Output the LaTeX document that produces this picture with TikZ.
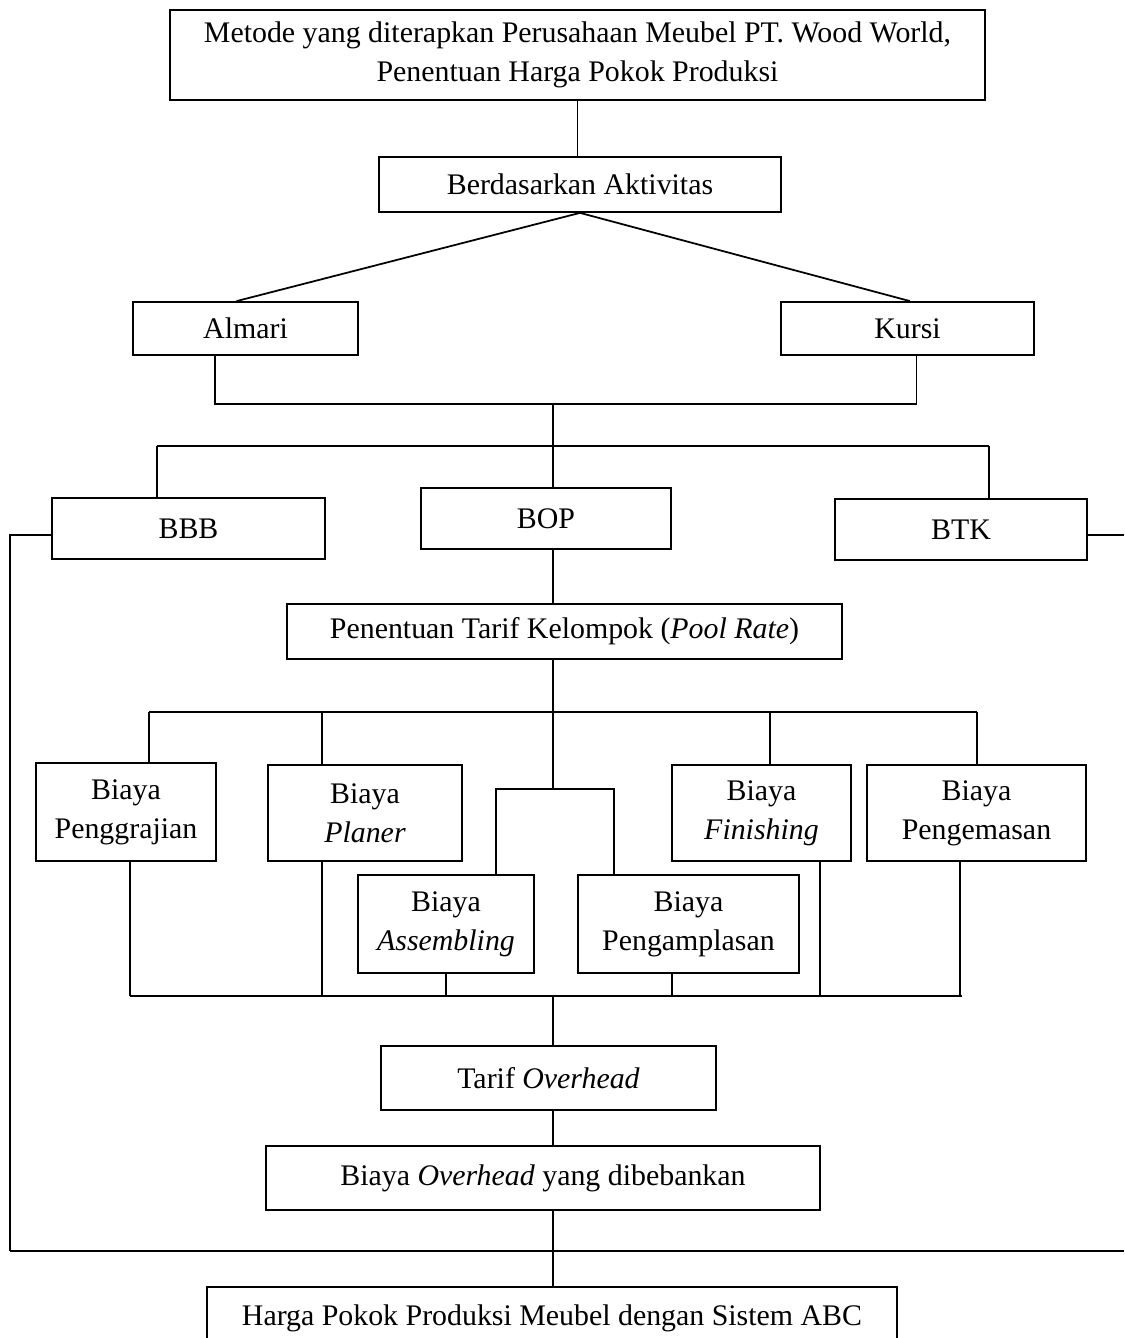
\documentclass[tikz,border=0pt]{standalone}
\usepackage{fontspec}
\setmainfont{Liberation Serif}
\usepackage{tikz}
\usetikzlibrary{positioning,calc}
\tikzset{
  box/.style={
    draw, line width=1pt, inner sep=0pt, align=center,
    font=\fontsize{17}{22}\selectfont
  },
  link/.style={line width=1pt},
  buslink/.style={line width=1.3pt}
}

\begin{document}
\begin{tikzpicture}
  \clip (0,0) rectangle (22.48,-26.76);
  \useasboundingbox (0,0) rectangle (22.48,-26.76);

  % nodes
  \node[box, minimum width=16.3cm, minimum height=1.8cm] (top) at (11.55,-1.1)
    {Metode yang diterapkan Perusahaan Meubel PT. Wood World,\\Penentuan Harga Pokok Produksi};
  \node[box, minimum width=8.04cm, minimum height=1.1cm] (akt) at (11.6,-3.69) {Berdasarkan Aktivitas};
  \node[box, minimum width=4.5cm, minimum height=1.06cm] (almari) at (4.91,-6.57) {Almari};
  \node[box, minimum width=5.06cm, minimum height=1.06cm] (kursi) at (18.15,-6.57) {Kursi};
  \node[box, minimum width=5.46cm, minimum height=1.22cm] (bbb) at (3.77,-10.57) {BBB};
  \node[box, minimum width=5.0cm, minimum height=1.22cm] (bop) at (10.92,-10.37) {BOP};
  \node[box, minimum width=5.04cm, minimum height=1.22cm] (btk) at (19.22,-10.59) {BTK};
  \node[box, minimum width=11.1cm, minimum height=1.1cm] (pool) at (11.29,-12.63)
    {Penentuan Tarif Kelompok (\textit{Pool Rate})};
  \node[box, minimum width=3.6cm, minimum height=1.96cm] (peng) at (2.52,-16.24) {Biaya\\Penggrajian};
  \node[box, minimum width=3.88cm, minimum height=1.92cm] (planer) at (7.3,-16.26) {Biaya\\\textit{Planer}};
  \node[box, minimum width=3.58cm, minimum height=1.92cm] (finish) at (15.23,-16.26) {Biaya\\\textit{Finishing}};
  \node[box, minimum width=4.38cm, minimum height=1.92cm] (kemas) at (19.53,-16.26) {Biaya\\Pengemasan};
  \node[box, minimum width=3.52cm, minimum height=1.96cm] (assem) at (8.92,-18.48) {Biaya\\\textit{Assembling}};
  \node[box, minimum width=4.42cm, minimum height=1.96cm] (ampl) at (13.77,-18.48) {Biaya\\Pengamplasan};
  \node[box, minimum width=6.7cm, minimum height=1.28cm] (tarif) at (10.97,-21.56) {Tarif \textit{Overhead}};
  \node[box, minimum width=11.08cm, minimum height=1.28cm] (beban) at (10.86,-23.56)
    {Biaya \textit{Overhead} yang dibebankan};
  \node[box, minimum width=13.8cm, minimum height=1.26cm] (hpp) at (11.04,-26.37)
    {Harga Pokok Produksi Meubel dengan Sistem ABC};

  % bus points
  \coordinate (bus1) at (11.06,-8.08);
  \coordinate (bus2) at (11.06,-8.92);
  \coordinate (bus3) at (11.06,-14.24);
  \coordinate (split) at (11.06,-15.78);
  \coordinate (bus4) at (11.06,-19.92);
  \coordinate (bus5) at (11.06,-25.02);
  \coordinate (edgeL) at (0.2,-25.02);
  \coordinate (edgeR) at (22.48,-25.02);

  % top part
  \draw[link] (top.south) -- (top.south |- akt.north);
  \draw[link] (akt.south) -- ([xshift=-0.18cm]almari.north);
  \draw[link] (akt.south) -- ([xshift=0.05cm]kursi.north);
  \draw[link] ([xshift=-0.61cm]almari.south) |- (bus1) -| ([xshift=0.18cm]kursi.south);
  \draw[link] (bus1) -- (bus2);
  \draw[link] (3.14,-8.92) -- (19.78,-8.92);
  \draw[link] (3.14,-8.92) -- (3.14,-8.92 |- bbb.north);
  \draw[link] (19.78,-8.92) -- (19.78,-8.92 |- btk.north);
  \draw[link] (bus2) -- (bus2 |- bop.north);

  % side lines
  \draw[link] ([yshift=-0.13cm]bbb.west) -| (edgeL);
  \draw[link] ([yshift=-0.11cm]btk.east) -- ([yshift=-0.11cm]btk.east -| edgeR);

  % pool rate
  \draw[link] (bus2 |- bop.south) -- (bus2 |- pool.north);
  \draw[link] (bus2 |- pool.south) -- (bus3);
  \draw[link] (2.98,-14.24) -- (19.54,-14.24);
  \foreach \n/\x in {peng/2.98, planer/6.44, finish/15.4, kemas/19.54}{
    \coordinate (t\n) at (\x,-14.24);
    \draw[link] (t\n) -- (t\n |- \n.north);
  }
  \draw[link] (bus3) -- (split);
  \draw[link] (9.92,-15.78 |- assem.north) |- (split) -| (12.28,-15.78 |- ampl.north);

  % collect
  \draw[buslink] (2.6,-19.92) -- (19.24,-19.92);
  \foreach \n/\x in {peng/2.6, planer/6.44, assem/8.92, ampl/13.44, finish/16.4, kemas/19.2}{
    \coordinate (b\n) at (\x,-19.92);
    \draw[link] (b\n) -- (b\n |- \n.south);
  }
  \draw[link] (bus4) -- (bus4 |- tarif.north);
  \draw[link] (bus4 |- tarif.south) -- (bus4 |- beban.north);
  \draw[link] (bus4 |- beban.south) -- (bus5);
  \draw[buslink] (edgeL) -- (edgeR);
  \draw[link] (bus5) -- (bus5 |- hpp.north);
\end{tikzpicture}
\end{document}
